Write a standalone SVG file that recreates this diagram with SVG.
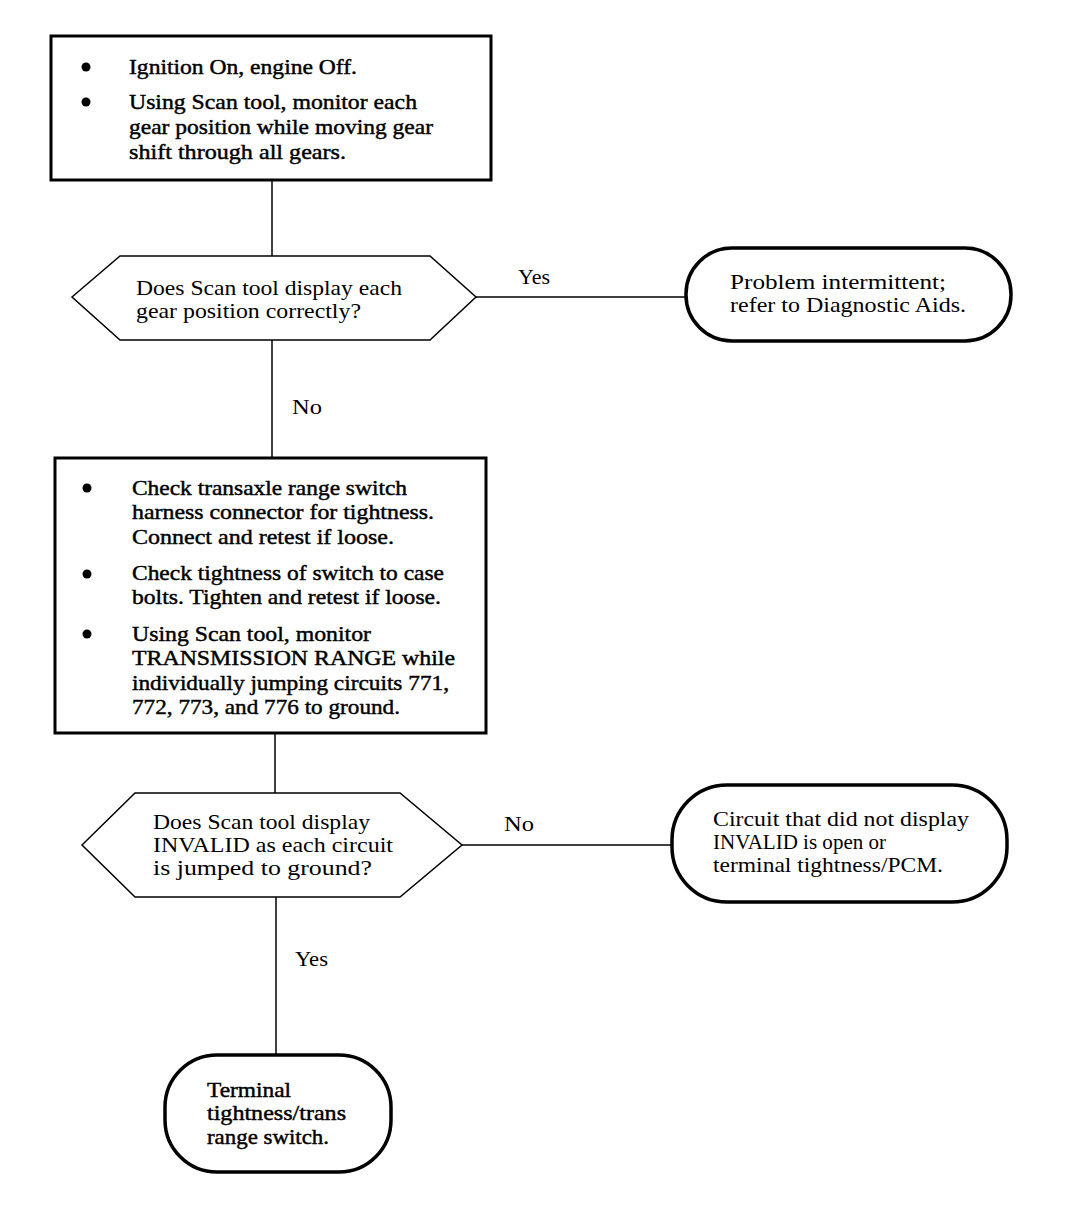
<svg xmlns="http://www.w3.org/2000/svg" width="1072" height="1206" viewBox="0 0 1072 1206">
<style>
text{font-family:"Liberation Serif","Times New Roman",serif;font-size:22px;fill:#000}
.hv{stroke:#000;stroke-width:0.45}
.box{fill:#fff;stroke:#000;stroke-width:3}
.term{fill:#fff;stroke:#000;stroke-width:3.5}
.dec{fill:#fff;stroke:#000;stroke-width:1.5}
.con{stroke:#000;stroke-width:1.5;fill:none}
</style>
<rect width="1072" height="1206" fill="#fff"/>
<g id="connectors">
<line class="con" x1="272" y1="180" x2="272" y2="256"/>
<line class="con" x1="476" y1="297" x2="686" y2="297"/>
<line class="con" x1="272" y1="340" x2="272" y2="458"/>
<line class="con" x1="275" y1="733" x2="275" y2="793"/>
<line class="con" x1="462" y1="845" x2="672" y2="845"/>
<line class="con" x1="276" y1="897" x2="276" y2="1055"/>
<text x="518" y="284" textLength="32" lengthAdjust="spacingAndGlyphs">Yes</text>
<text x="292" y="414" textLength="30" lengthAdjust="spacingAndGlyphs">No</text>
<text x="504" y="831" textLength="30" lengthAdjust="spacingAndGlyphs">No</text>
<text x="295" y="966" textLength="33" lengthAdjust="spacingAndGlyphs">Yes</text>
</g>
<g id="step1">
<rect class="box" x="51" y="36" width="440" height="144"/>
<circle cx="86" cy="67" r="4.5"/>
<circle cx="86" cy="102" r="4.5"/>
<text class="hv" x="129" y="74" textLength="228" lengthAdjust="spacingAndGlyphs">Ignition On, engine Off.</text>
<text class="hv" x="129" y="109" textLength="288" lengthAdjust="spacingAndGlyphs">Using Scan tool, monitor each</text>
<text class="hv" x="129" y="134" textLength="304" lengthAdjust="spacingAndGlyphs">gear position while moving gear</text>
<text class="hv" x="129" y="159" textLength="217" lengthAdjust="spacingAndGlyphs">shift through all gears.</text>
</g>
<g id="decision1">
<polygon class="dec" points="72,297 120,256 430,256 476,297 430,340 120,340"/>
<text x="136" y="295" textLength="266" lengthAdjust="spacingAndGlyphs">Does Scan tool display each</text>
<text x="136" y="318" textLength="225" lengthAdjust="spacingAndGlyphs">gear position correctly?</text>
</g>
<g id="result1">
<rect class="term" x="686" y="248" width="325" height="93" rx="46" ry="46"/>
<text x="730" y="289" textLength="216" lengthAdjust="spacingAndGlyphs">Problem intermittent;</text>
<text x="730" y="312" textLength="236" lengthAdjust="spacingAndGlyphs">refer to Diagnostic Aids.</text>
</g>
<g id="step2">
<rect class="box" x="55" y="458" width="431" height="275"/>
<circle cx="87" cy="488" r="4.5"/>
<circle cx="87" cy="574" r="4.5"/>
<circle cx="87" cy="634" r="4.5"/>
<text class="hv" x="132" y="495" textLength="275" lengthAdjust="spacingAndGlyphs">Check transaxle range switch</text>
<text class="hv" x="132" y="519" textLength="302" lengthAdjust="spacingAndGlyphs">harness connector for tightness.</text>
<text class="hv" x="132" y="544" textLength="262" lengthAdjust="spacingAndGlyphs">Connect and retest if loose.</text>
<text class="hv" x="132" y="580" textLength="312" lengthAdjust="spacingAndGlyphs">Check tightness of switch to case</text>
<text class="hv" x="132" y="604" textLength="309" lengthAdjust="spacingAndGlyphs">bolts. Tighten and retest if loose.</text>
<text class="hv" x="132" y="641" textLength="239" lengthAdjust="spacingAndGlyphs">Using Scan tool, monitor</text>
<text class="hv" x="132" y="665" textLength="323" lengthAdjust="spacingAndGlyphs">TRANSMISSION RANGE while</text>
<text class="hv" x="132" y="690" textLength="317" lengthAdjust="spacingAndGlyphs">individually jumping circuits 771,</text>
<text class="hv" x="132" y="714" textLength="268" lengthAdjust="spacingAndGlyphs">772, 773, and 776 to ground.</text>
</g>
<g id="decision2">
<polygon class="dec" points="82,845 135,793 400,793 462,845 400,897 135,897"/>
<text x="153" y="829" textLength="217" lengthAdjust="spacingAndGlyphs">Does Scan tool display</text>
<text x="153" y="852" textLength="240" lengthAdjust="spacingAndGlyphs">INVALID as each circuit</text>
<text x="153" y="875" textLength="219" lengthAdjust="spacingAndGlyphs">is jumped to ground?</text>
</g>
<g id="result2">
<rect class="term" x="672" y="785" width="335" height="117" rx="55" ry="55"/>
<text x="713" y="826" textLength="256" lengthAdjust="spacingAndGlyphs">Circuit that did not display</text>
<text x="713" y="849" textLength="173" lengthAdjust="spacingAndGlyphs">INVALID is open or</text>
<text x="713" y="872" textLength="230" lengthAdjust="spacingAndGlyphs">terminal tightness/PCM.</text>
</g>
<g id="result3">
<rect class="term" x="165" y="1055" width="226" height="117" rx="52" ry="52"/>
<text class="hv" x="207" y="1097" textLength="84" lengthAdjust="spacingAndGlyphs">Terminal</text>
<text class="hv" x="207" y="1120" textLength="139" lengthAdjust="spacingAndGlyphs">tightness/trans</text>
<text class="hv" x="207" y="1144" textLength="122" lengthAdjust="spacingAndGlyphs">range switch.</text>
</g>
</svg>
